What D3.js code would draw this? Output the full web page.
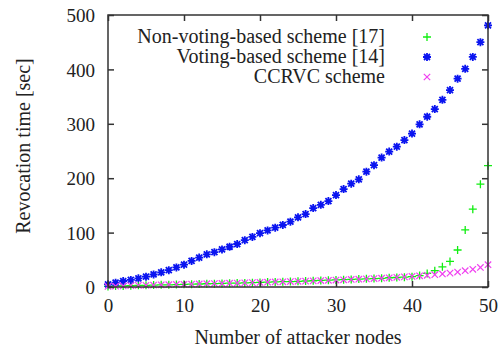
<!DOCTYPE html>
<html><head><meta charset="utf-8">
<script src="https://cdn.jsdelivr.net/npm/d3@7"></script>
<style>html,body{margin:0;padding:0;background:#fff}
svg text{font-family:"Liberation Serif","Times New Roman","DejaVu Serif",serif;}
</style>
</head><body>
<svg id="c" width="502" height="347"></svg>
<script>
const xValues = d3.range(0, 51);
const nonVoting = [1,2,2,2.5,3,3,3.5,4,4,4.5,5,5.2,5.5,6,6.2,6.5,7,7.2,7.5,8,8.5,9,9.3,9.7,10,10.5,11,11.5,12,12.5,13,13.5,14,14.5,15,15.5,16,17,17.5,18,19,21,25,30,37,47,68,105,143,189,223];
const voting = [5,8,11,13,16,19,23,27,31,36,41,48,54,60,64,69,74,79,86,92,99,104,109,114,120,128,134,145,151,158,169,180,190,198,212,224,238,249,258,270,282,299,313,327,344,362,383,401,423,450,481];
const ccrvc = [1,1.5,2,2.5,3,3.2,3.5,4,4.3,4.6,5,5.3,5.6,6,6.3,6.6,7,7.3,7.6,8,8.4,8.8,9.2,9.6,10,10.4,10.8,11.3,11.8,12.3,12.8,13.3,13.8,14.3,14.9,15.5,16.2,17,17.8,18.6,19.5,20.5,21.5,22.7,24,25.5,27.5,30,32.5,36,41];
const xTicks = [0,10,20,30,40,50];
const yTicks = [0,100,200,300,400,500];
const seriesNames = ["Non-voting-based scheme [17]","Voting-based scheme [14]","CCRVC scheme"];

const svg = d3.select("#c");
const L=108, R=488, T=15, B=287;
const x = d3.scaleLinear().domain([0,50]).range([L,R]);
const y = d3.scaleLinear().domain([0,500]).range([B,T]);
const fs = "19px", fsT = "20px";
const tc = "#222";

const plot = svg.append("g");
const sym = {
  plus: s => `M${-s},0H${s}M0,${-s}V${s}`,
  cross: s => `M${-s},${-s}L${s},${s}M${-s},${s}L${s},${-s}`,
  star: s => `M${-s},0H${s}M0,${-s}V${s}M${-s*0.75},${-s*0.75}L${s*0.75},${s*0.75}M${-s*0.75},${s*0.75}L${s*0.75},${-s*0.75}`
};
const series = [
  {name: seriesNames[0], data: nonVoting, color: "#11ee11", shape: "plus", size: 4, w: 1.3},
  {name: seriesNames[1], data: voting, color: "#0a14f0", shape: "star", size: 4, w: 1.8},
  {name: seriesNames[2], data: ccrvc, color: "#f040f0", shape: "cross", size: 3.2, w: 1.2}
];
series.forEach(s => {
  plot.append("g").selectAll("path").data(s.data).join("path")
    .attr("transform",(d,i)=>`translate(${x(xValues[i])},${y(d)})`)
    .attr("d", sym[s.shape](s.size))
    .attr("stroke", s.color).attr("stroke-width", s.w).attr("fill","none");
});

svg.append("rect").attr("x",L).attr("y",T).attr("width",R-L).attr("height",B-T)
  .attr("fill","none").attr("stroke","#333").attr("stroke-width",1.5);

const gx = svg.append("g").attr("transform",`translate(0,${B})`)
  .call(d3.axisBottom(x).tickValues(xTicks).tickSize(-6).tickPadding(12));
const gxt = svg.append("g").attr("transform",`translate(0,${T})`)
  .call(d3.axisTop(x).tickValues(xTicks).tickSize(-6).tickFormat(""));
const gy = svg.append("g").attr("transform",`translate(${L},0)`)
  .call(d3.axisLeft(y).tickValues(yTicks).tickSize(-6).tickPadding(13));
const gyr = svg.append("g").attr("transform",`translate(${R},0)`)
  .call(d3.axisRight(y).tickValues(yTicks).tickSize(-6).tickFormat(""));
[gx,gxt,gy,gyr].forEach(g=>{
  g.attr("font-family",null);
  g.select(".domain").remove();
  g.selectAll(".tick line").attr("stroke","#333").attr("stroke-width",1.5);
  g.selectAll("text").attr("fill",tc).style("font-size",fs);
});
gx.selectAll(".tick text").attr("dy","0.71em");
gy.selectAll(".tick text").attr("dy","0.35em");

svg.append("text").attr("x",298).attr("y",344).attr("text-anchor","middle")
  .attr("fill",tc).style("font-size",fsT).text("Number of attacker nodes");
svg.append("text").attr("transform","translate(30,146) rotate(-90)").attr("text-anchor","middle")
  .attr("fill",tc).style("font-size",fsT).text("Revocation time [sec]");

const lg = svg.append("g");
series.forEach((s,i)=>{
  lg.append("text").attr("x",385).attr("y",43+i*20).attr("text-anchor","end")
    .attr("fill",tc).style("font-size",fsT).text(s.name);
  lg.append("path").attr("transform",`translate(427,${37+i*20})`).attr("d",sym[s.shape](s.size))
    .attr("stroke",s.color).attr("stroke-width",s.w).attr("fill","none");
});
</script>
</body></html>
